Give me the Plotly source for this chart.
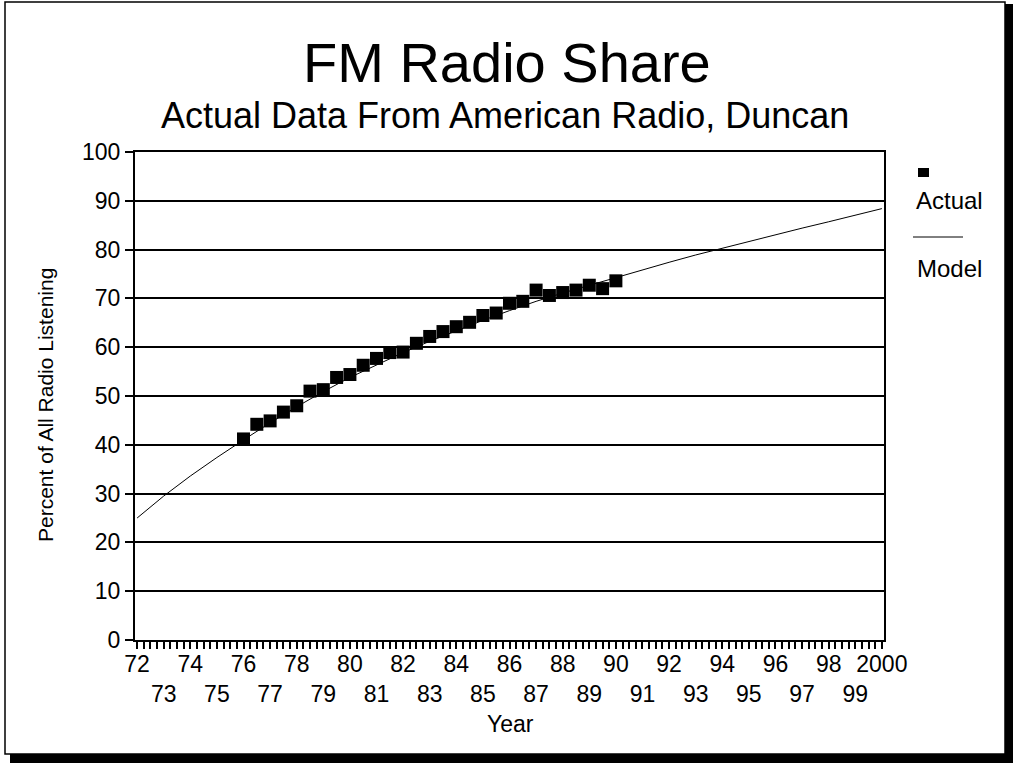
import plotly.graph_objects as go

# Actual data (semiannual)
actual_years = [1976.0, 1976.5, 1977.0, 1977.5, 1978.0, 1978.5, 1979.0, 1979.5, 1980.0, 1980.5,
                1981.0, 1981.5, 1982.0, 1982.5, 1983.0, 1983.5, 1984.0, 1984.5, 1985.0, 1985.5,
                1986.0, 1986.5, 1987.0, 1987.5, 1988.0, 1988.5, 1989.0, 1989.5, 1990.0]
actual_share = [41.2, 44.2, 44.9, 46.7, 48.0, 51.0, 51.3, 53.8, 54.4, 56.3,
                57.7, 58.9, 59.0, 60.8, 62.2, 63.2, 64.2, 65.1, 66.5, 67.0,
                69.0, 69.4, 71.7, 70.6, 71.2, 71.7, 72.7, 72.0, 73.6]

# Model curve (yearly)
model_years = list(range(1972, 2001))
model_share = [25.0, 29.5, 33.6, 37.4, 41.0, 44.5, 47.8, 50.9, 53.8, 56.4,
               58.9, 61.2, 63.4, 65.5, 67.5, 69.4, 71.1, 72.7, 74.3, 75.9,
               77.4, 78.9, 80.3, 81.7, 83.0, 84.4, 85.7, 87.0, 88.4]

# Tick labels: even years on first row, odd years on second
tick_years = list(range(1972, 2001))
tick_text = [("2000" if y == 2000 else f"{y % 100:02d}") if y % 2 == 0 else f"<br>{y % 100:02d}"
             for y in tick_years]

title_text = "FM Radio Share"
subtitle_text = "Actual Data From American Radio, Duncan"

FONT = "Liberation Sans, Arial, Helvetica, sans-serif"

fig = go.Figure()
fig.add_trace(go.Scatter(x=model_years, y=model_share, mode="lines",
                         line=dict(color="black", width=1), name="Model", showlegend=False))
fig.add_trace(go.Scatter(x=actual_years, y=actual_share, mode="markers",
                         marker=dict(symbol="square", size=13, color="black"),
                         name="Actual", showlegend=False))

L, R, T, B = 135, 129, 152, 123
W, H = 1013, 763
pw, ph = W - L - R, H - T - B

def px(x):
    return (x - L) / pw

def py(y):
    return (H - B - y) / ph

fig.update_layout(
    width=W, height=H,
    margin=dict(l=L, r=R, t=T, b=B),
    paper_bgcolor="white", plot_bgcolor="white",
    font=dict(family=FONT, color="black"),
    xaxis=dict(range=[1971.92, 2000.08], tickvals=tick_years, ticktext=tick_text,
               ticks="outside", ticklen=7, tickwidth=2, tickcolor="black",
               minor=dict(dtick=0.25, tick0=1972, ticks="outside", ticklen=7, tickwidth=2, tickcolor="black"),
               showgrid=False, zeroline=False, showline=True, linecolor="black", linewidth=2,
               mirror=True, tickfont=dict(size=23, family=FONT), tickangle=0,
               ticklabelstandoff=-5),
    yaxis=dict(range=[0, 100], dtick=10, ticks="outside", ticklen=8, tickwidth=2, tickcolor="black",
               showgrid=True, gridcolor="black", gridwidth=2, zeroline=False,
               showline=True, linecolor="black", linewidth=2, mirror=True,
               tickfont=dict(size=23, family=FONT)),
)

annotations = [
    dict(text=title_text, x=px(507), y=py(62), xref="paper", yref="paper",
         showarrow=False, font=dict(size=56, family=FONT), xanchor="center", yanchor="middle"),
    dict(text=subtitle_text, x=px(505), y=py(115), xref="paper", yref="paper",
         showarrow=False, font=dict(size=36, family=FONT), xanchor="center", yanchor="middle"),
    dict(text="Percent of All Radio Listening", x=px(45), y=py(405), xref="paper", yref="paper",
         showarrow=False, textangle=-90, font=dict(size=21, family=FONT), xanchor="center", yanchor="middle"),
    dict(text="Year", x=px(510), y=py(724), xref="paper", yref="paper",
         showarrow=False, font=dict(size=23, family=FONT), xanchor="center", yanchor="middle"),
    dict(text="Actual", x=px(949), y=py(200), xref="paper", yref="paper",
         showarrow=False, font=dict(size=24, family=FONT), xanchor="center", yanchor="middle"),
    dict(text="Model", x=px(949), y=py(268), xref="paper", yref="paper",
         showarrow=False, font=dict(size=24, family=FONT), xanchor="center", yanchor="middle"),
]
fig.update_layout(annotations=annotations)

shapes = [
    # legend square
    dict(type="rect", xref="paper", yref="paper", x0=px(918), x1=px(929), y0=py(168), y1=py(177),
         fillcolor="black", line=dict(width=0)),
    # legend line
    dict(type="line", xref="paper", yref="paper", x0=px(913), x1=px(963), y0=py(237), y1=py(237),
         line=dict(color="black", width=1)),
    # outer frame
    dict(type="rect", xref="paper", yref="paper", x0=px(5), x1=px(1005), y0=py(2), y1=py(754),
         line=dict(color="black", width=1.5)),
    # shadow right
    dict(type="rect", xref="paper", yref="paper", x0=px(1005), x1=px(1013), y0=py(4), y1=py(763),
         fillcolor="black", line=dict(width=0)),
    # shadow bottom
    dict(type="rect", xref="paper", yref="paper", x0=px(10), x1=px(1013), y0=py(754), y1=py(763),
         fillcolor="black", line=dict(width=0)),
]
fig.update_layout(shapes=shapes)

fig.write_html("out.html", config={"displayModeBar": False},
               post_script="document.body.style.margin='0';document.body.style.overflow='hidden';")
